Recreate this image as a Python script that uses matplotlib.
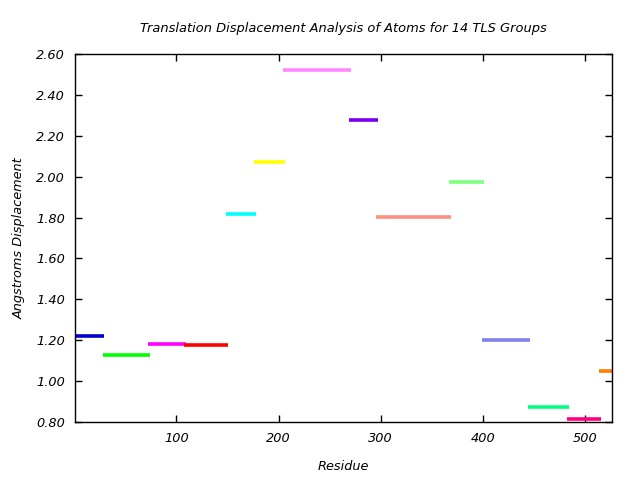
import matplotlib
matplotlib.use('Agg')
import matplotlib.pyplot as plt
from matplotlib.ticker import FormatStrFormatter

# TLS group residue ranges and translation displacement
res_start = [1, 28, 72, 108, 149, 176, 204, 269, 295, 367, 399, 444, 482, 513]
res_end = [29, 74, 110, 151, 178, 206, 271, 297, 369, 401, 446, 484, 515, 526]
displacement = [1.22, 1.13, 1.18, 1.175, 1.815, 2.07, 2.52, 2.275, 1.805, 1.975, 1.20, 0.875, 0.815, 1.05]
colors = ['#0000cc', '#00ff00', '#ff00ff', '#ff0000', '#00ffff', '#ffff00', '#ff88ff',
          '#7700ee', '#ff9080', '#80ff80', '#8080ee', '#00ff80', '#ff0080', '#ff8000']

plt.rcParams['font.style'] = 'italic'
plt.rcParams['font.size'] = 9.3

fig = plt.figure(figsize=(6.4, 4.8), dpi=100)
ax = fig.add_axes([75 / 640, 1 - 422 / 480, (612 - 75) / 640, (422 - 54) / 480])

for x0, x1, y, c in zip(res_start, res_end, displacement, colors):
    ax.plot([x0, x1], [y, y], color=c, linewidth=2.6, solid_capstyle='butt')

ax.set_xlim(1, 526)
ax.set_ylim(0.80, 2.60)
ax.set_xticks([100, 200, 300, 400, 500])
ax.set_yticks([0.8 + 0.2 * i for i in range(10)])
ax.yaxis.set_major_formatter(FormatStrFormatter('%.2f'))
ax.tick_params(direction='in', top=True, right=True, length=5, width=1, pad=7)
for s in ax.spines.values():
    s.set_linewidth(1)

ax.set_xlabel('Residue', labelpad=11)
ax.set_ylabel('Angstroms Displacement', labelpad=8)
ax.set_title('Translation Displacement Analysis of Atoms for 14 TLS Groups', fontsize=9.4, pad=16)

fig.savefig('out.png', dpi=100)
